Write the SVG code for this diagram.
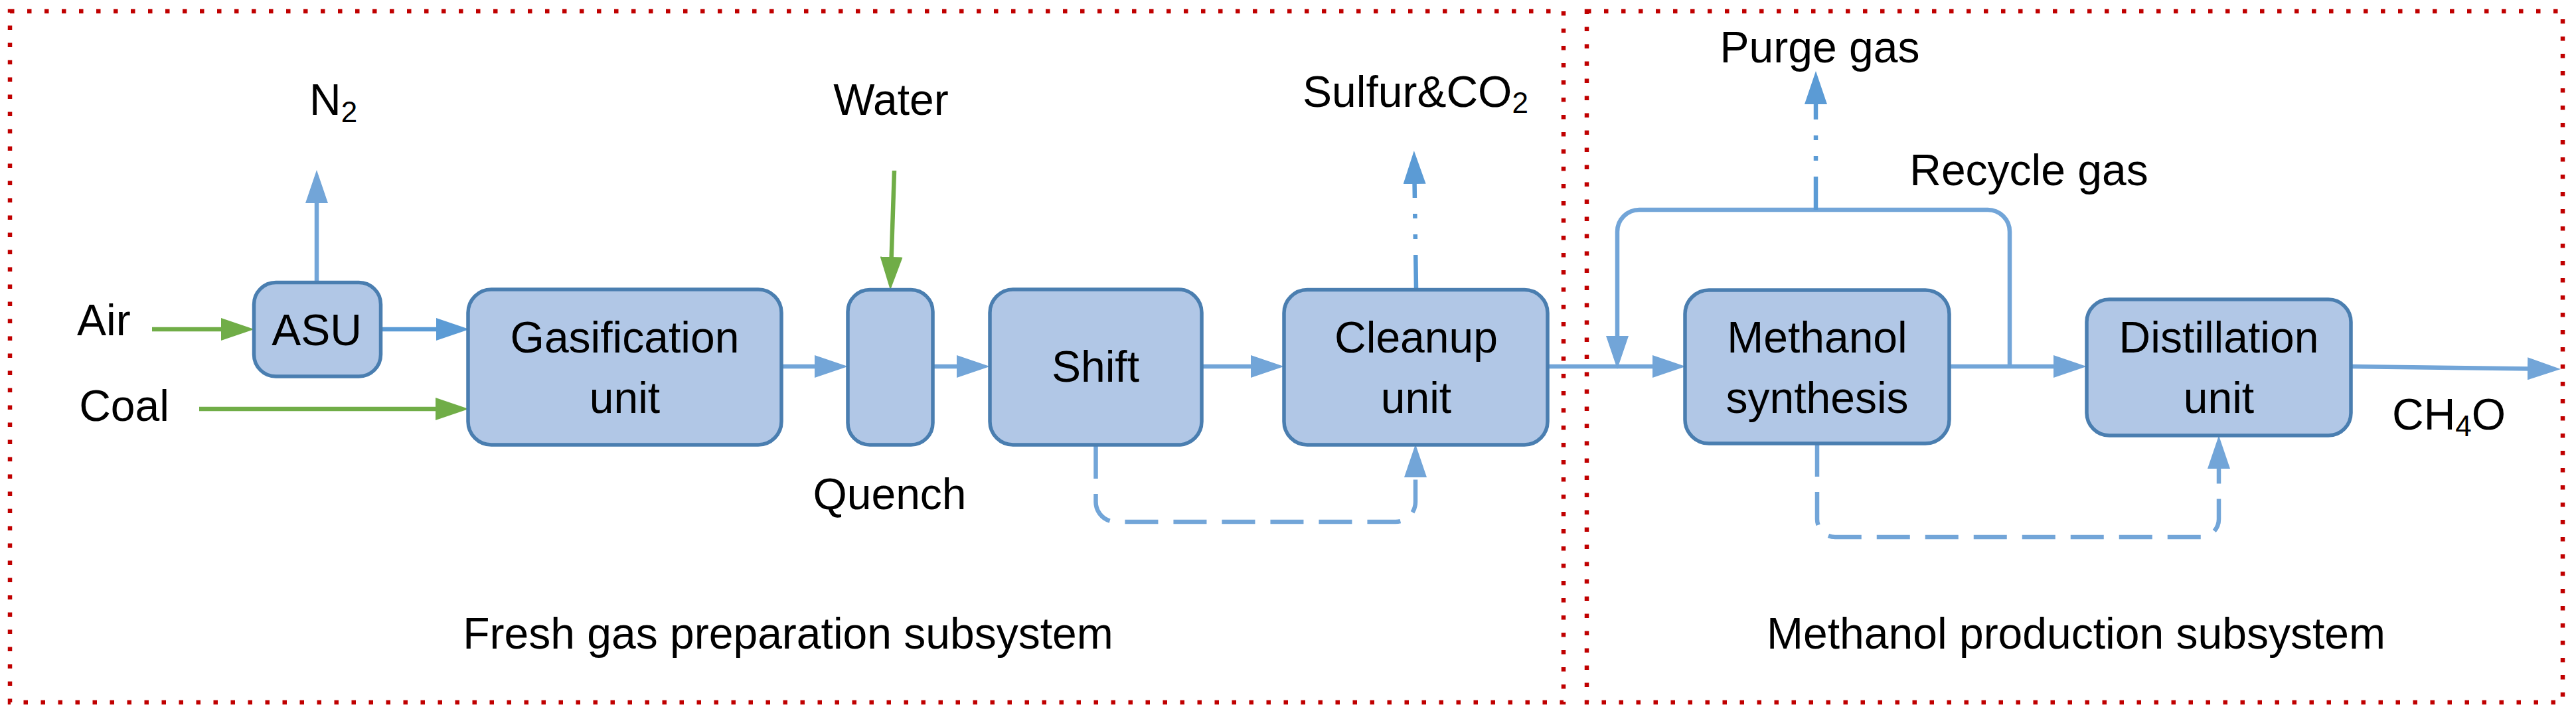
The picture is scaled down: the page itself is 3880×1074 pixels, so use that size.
<svg xmlns="http://www.w3.org/2000/svg" width="3880" height="1074" viewBox="0 0 3880 1074">
<style>
text{font-family:"Liberation Sans",Arial,sans-serif;font-size:66px;fill:#000}
.mid{text-anchor:middle}
.box{fill:#B1C7E6;stroke:#4A7EB0;stroke-width:5.5}
.ln{fill:none;stroke-width:6.5}
.b1{stroke:#5B9BD5}
.b2{stroke:#72A5D8}
.gr{stroke:#70AD47}
.dash{stroke-dasharray:50 23}
.dd{stroke-dasharray:50 24 7 24 7 24}
.sub{fill:none;stroke:#C00000;stroke-width:6.5;stroke-dasharray:6.5 19.5}
</style>
<defs>
<marker id="ah1" markerUnits="userSpaceOnUse" markerWidth="50" markerHeight="34" viewBox="0 0 50 34" refX="5" refY="17" orient="auto"><path d="M0,0L50,17L0,34z" fill="#5B9BD5"/></marker>
<marker id="ah2" markerUnits="userSpaceOnUse" markerWidth="50" markerHeight="34" viewBox="0 0 50 34" refX="5" refY="17" orient="auto"><path d="M0,0L50,17L0,34z" fill="#72A5D8"/></marker>
<marker id="ahg" markerUnits="userSpaceOnUse" markerWidth="50" markerHeight="34" viewBox="0 0 50 34" refX="5" refY="17" orient="auto"><path d="M0,0L50,17L0,34z" fill="#70AD47"/></marker>
</defs>
<rect width="3880" height="1074" fill="#fff"/>
<g id="subsystems">
<rect class="sub" x="15" y="17" width="2340" height="1041"/>
<rect class="sub" x="2390" y="17" width="1470" height="1041"/>
<text class="mid" x="1187" y="977">Fresh gas preparation subsystem</text>
<text class="mid" x="3127" y="977">Methanol production subsystem</text>
</g>
<g id="connectors">
<path class="ln gr" d="M229,496H338" marker-end="url(#ahg)"/>
<path class="ln gr" d="M300,616H661" marker-end="url(#ahg)"/>
<path class="ln b1" d="M576,496H662" marker-end="url(#ah1)"/>
<path class="ln b2" d="M477,425V301" marker-end="url(#ah2)"/>
<path class="ln gr" d="M1347,257L1342.5,392" marker-end="url(#ahg)"/>
<path class="ln b2" d="M1177,552H1232" marker-end="url(#ah2)"/>
<path class="ln b2" d="M1405,552H1446" marker-end="url(#ah2)"/>
<path class="ln b2" d="M1810,552H1889" marker-end="url(#ah2)"/>
<path class="ln b2" d="M2332,552H2494" marker-end="url(#ah2)"/>
<path class="ln b1 dd" d="M2133,434L2130.5,272" marker-end="url(#ah1)"/>
<path class="ln b2 dash" d="M1650.5,671V756A30,30 0 0 0 1680.5,786H2102A30,30 0 0 0 2132,756V714" marker-end="url(#ah2)"/>
<path class="ln b2" d="M3027,552V349A33,33 0 0 0 2994,316H2469A33,33 0 0 0 2436,349V511" marker-end="url(#ah2)"/>
<path class="ln b1 dd" d="M2735,316V152" marker-end="url(#ah1)"/>
<path class="ln b2" d="M2936,552H3098" marker-end="url(#ah2)"/>
<path class="ln b2" d="M3542,552L3812,555.4" marker-end="url(#ah2)"/>
<path class="ln b2 dash" d="M2737,668V782A27,27 0 0 0 2764,809H3315A27,27 0 0 0 3342,782V701" marker-end="url(#ah2)"/>
</g>
<g id="labels">
<text x="466" y="173">N<tspan font-size="44" dy="11">2</tspan></text>
<text x="116" y="505">Air</text>
<text class="mid" x="187" y="634">Coal</text>
<text class="mid" x="1342" y="173">Water</text>
<text x="1962" y="161">Sulfur&amp;CO<tspan font-size="44" dy="9">2</tspan></text>
<text class="mid" x="2741" y="94">Purge gas</text>
<text class="mid" x="3056" y="279">Recycle gas</text>
<text x="3603" y="647">CH<tspan font-size="44" dy="10">4</tspan><tspan dy="-10">O</tspan></text>
</g>
<g id="asu">
<rect class="box" x="382.5" y="425.5" width="191" height="141.5" rx="33"/>
<text class="mid" x="477" y="520">ASU</text>
</g>
<g id="gasification">
<rect class="box" x="705" y="436" width="472" height="234" rx="35"/>
<text class="mid" x="941" y="531">Gasification</text>
<text class="mid" x="941" y="622">unit</text>
</g>
<g id="quench">
<rect class="box" x="1277" y="436.5" width="128" height="233.5" rx="33"/>
<text class="mid" x="1340" y="767">Quench</text>
</g>
<g id="shift">
<rect class="box" x="1491" y="436" width="319" height="234" rx="35"/>
<text class="mid" x="1650" y="575">Shift</text>
</g>
<g id="cleanup">
<rect class="box" x="1934" y="436.5" width="397" height="233.5" rx="35"/>
<text class="mid" x="2133" y="531">Cleanup</text>
<text class="mid" x="2133" y="622">unit</text>
</g>
<g id="methanol-synthesis">
<rect class="box" x="2538" y="437" width="398" height="231" rx="36"/>
<text class="mid" x="2737" y="531">Methanol</text>
<text class="mid" x="2737" y="622">synthesis</text>
</g>
<g id="distillation">
<rect class="box" x="3143" y="451" width="398" height="205" rx="34"/>
<text class="mid" x="3342" y="531">Distillation</text>
<text class="mid" x="3342" y="622">unit</text>
</g>
</svg>
